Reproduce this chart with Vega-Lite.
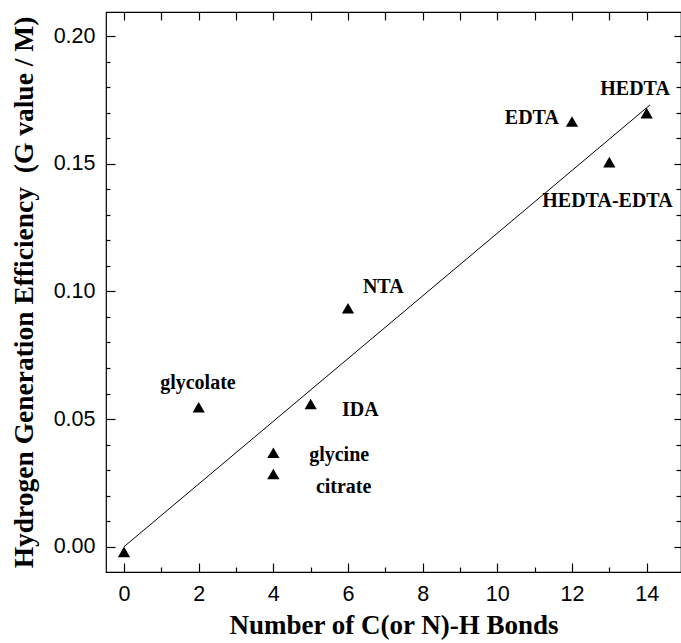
{
  "$schema": "https://vega.github.io/schema/vega-lite/v6.json",
  "width": 575,
  "height": 560,
  "autosize": {"type": "none"},
  "padding": {"left": 106, "top": 12, "right": 0, "bottom": 71},
  "background": "white",
  "config": {
    "view": {"stroke": "black", "strokeWidth": 1.2},
    "axis": {"grid": false, "domain": false, "tickColor": "black", "labelColor": "black", "titleColor": "black", "tickWidth": 1.2}
  },
  "datasets": {
    "pts": [
      {"compound": "none", "bonds": 0, "g": -0.002},
      {"compound": "glycolate", "bonds": 2, "g": 0.0546},
      {"compound": "glycine", "bonds": 4, "g": 0.0368},
      {"compound": "citrate", "bonds": 4, "g": 0.0285},
      {"compound": "IDA", "bonds": 5, "g": 0.0559},
      {"compound": "NTA", "bonds": 6, "g": 0.0934},
      {"compound": "EDTA", "bonds": 12, "g": 0.1665},
      {"compound": "HEDTA-EDTA", "bonds": 13, "g": 0.1506},
      {"compound": "HEDTA", "bonds": 14, "g": 0.1698}
    ],
    "fit": [
      {"bonds": 0, "g": 0.0},
      {"bonds": 14.09, "g": 0.173}
    ],
    "labLeft": [
      {"name": "glycine", "lx": 4.96, "ly": 0.036},
      {"name": "citrate", "lx": 5.14, "ly": 0.0234},
      {"name": "IDA", "lx": 5.84, "ly": 0.0535},
      {"name": "NTA", "lx": 6.4, "ly": 0.1017}
    ],
    "labCenter": [
      {"name": "glycolate", "lx": 1.98, "ly": 0.0641},
      {"name": "HEDTA", "lx": 13.69, "ly": 0.1793},
      {"name": "HEDTA-EDTA", "lx": 12.95, "ly": 0.1354}
    ],
    "labRight": [
      {"name": "EDTA", "lx": 11.65, "ly": 0.1679}
    ]
  },
  "layer": [
    {
      "data": {"name": "pts"},
      "mark": {"type": "point", "shape": "triangle-up", "filled": true, "color": "black", "opacity": 1, "size": 150},
      "encoding": {
        "x": {
          "field": "bonds", "type": "quantitative",
          "scale": {"domain": [-0.482, 14.92], "nice": false, "zero": false},
          "axis": {"orient": "bottom", "values": [0, 2, 4, 6, 8, 10, 12, 14], "offset": -9, "tickSize": 9, "labelPadding": 11,
            "labelFont": "Liberation Sans", "labelFontSize": 21.5, "labelFlush": false,
            "title": "Number of C(or N)-H Bonds", "titleFont": "Liberation Serif", "titleFontSize": 27, "titleFontWeight": "bold", "titlePadding": 8}
        },
        "y": {
          "field": "g", "type": "quantitative",
          "scale": {"domain": [-0.0099, 0.2094], "nice": false, "zero": false},
          "axis": {"orient": "left", "values": [0, 0.05, 0.1, 0.15, 0.2], "format": ".2f", "offset": -9, "tickSize": 9, "labelPadding": 11,
            "labelFont": "Liberation Sans", "labelFontSize": 21.5, "labelFlush": false,
            "title": "Hydrogen Generation Efficiency\u00a0\u00a0(G value / M)", "titleFont": "Liberation Serif", "titleFontSize": 27.5, "titleFontWeight": "bold", "titlePadding": 15}
        }
      }
    },
    {
      "data": {"name": "fit"},
      "mark": {"type": "line", "color": "black", "strokeWidth": 1},
      "encoding": {
        "x": {"field": "bonds", "type": "quantitative",
          "axis": {"orient": "top", "values": [0, 1, 2, 3, 4, 5, 6, 7, 8, 9, 10, 11, 12, 13, 14], "offset": -8, "tickSize": 8, "labels": false, "title": null}},
        "y": {"field": "g", "type": "quantitative",
          "axis": {"orient": "right", "values": [0, 0.05, 0.1, 0.15, 0.2], "offset": -7, "tickSize": 7, "labels": false, "title": null}}
      }
    },
    {
      "data": {"name": "labLeft"},
      "mark": {"type": "text", "align": "left", "baseline": "middle", "font": "Liberation Serif", "fontWeight": "bold", "fontSize": 20, "color": "black"},
      "encoding": {
        "x": {"field": "lx", "type": "quantitative",
          "axis": {"orient": "bottom", "values": [1, 3, 5, 7, 9, 11, 13], "offset": -5, "tickSize": 5, "labels": false, "title": null}},
        "y": {"field": "ly", "type": "quantitative",
          "axis": {"orient": "left", "values": [0.01, 0.02, 0.03, 0.04, 0.06, 0.07, 0.08, 0.09, 0.11, 0.12, 0.13, 0.14, 0.16, 0.17, 0.18, 0.19], "offset": -4, "tickSize": 4, "labels": false, "title": null}},
        "text": {"field": "name"}
      }
    },
    {
      "data": {"name": "labCenter"},
      "mark": {"type": "text", "align": "center", "baseline": "middle", "font": "Liberation Serif", "fontWeight": "bold", "fontSize": 20, "color": "black"},
      "encoding": {
        "x": {"field": "lx", "type": "quantitative", "axis": null},
        "y": {"field": "ly", "type": "quantitative",
          "axis": {"orient": "right", "values": [0.01, 0.02, 0.03, 0.04, 0.06, 0.07, 0.08, 0.09, 0.11, 0.12, 0.13, 0.14, 0.16, 0.17, 0.18, 0.19], "offset": -5, "tickSize": 5, "labels": false, "title": null}},
        "text": {"field": "name"}
      }
    },
    {
      "data": {"name": "labRight"},
      "mark": {"type": "text", "align": "right", "baseline": "middle", "font": "Liberation Serif", "fontWeight": "bold", "fontSize": 20, "color": "black"},
      "encoding": {
        "x": {"field": "lx", "type": "quantitative", "axis": null},
        "y": {"field": "ly", "type": "quantitative", "axis": null},
        "text": {"field": "name"}
      }
    }
  ],
  "resolve": {"axis": {"x": "independent", "y": "independent"}}
}
